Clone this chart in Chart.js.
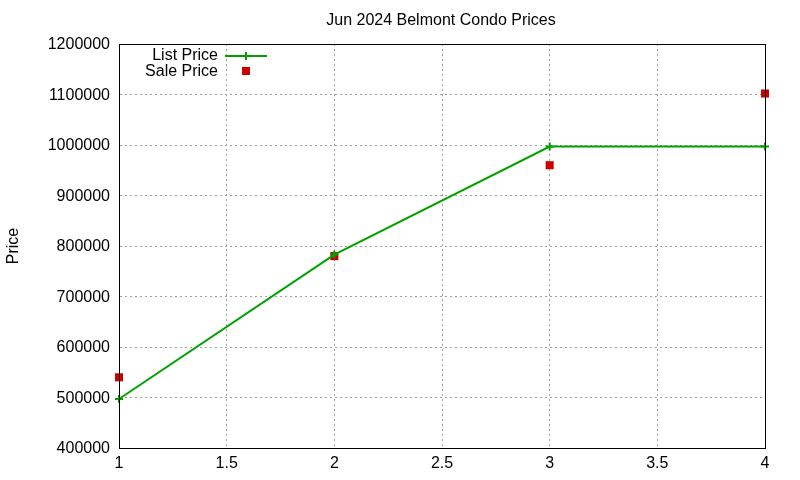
<!DOCTYPE html>
<html><head><meta charset="utf-8">
<script src="https://cdn.jsdelivr.net/npm/chart.js@4"></script>
<style>html,body{margin:0;padding:0;background:#fff}#wrap{width:800px;height:480px}</style>
</head><body><div id="wrap"><canvas id="c" width="800" height="480"></canvas></div>
<script>
const chartTitle = "Jun 2024 Belmont Condo Prices";
const yAxisLabel = "Price";
const xValues = [1, 2, 3, 4];
const listPrice = [497000, 783000, 997000, 997000];
const salePrice = [540000, 780000, 960000, 1102000];
const seriesNames = ["List Price", "Sale Price"];

const FONT = "'Liberation Sans', Arial, sans-serif";
const green = "#00a000", red = "#cc0000";

const boxPlugin = {
  id: 'boxAndText',
  afterDraw(chart) {
    const {ctx, chartArea: a} = chart;
    ctx.save();
    ctx.strokeStyle = '#000'; ctx.lineWidth = 1;
    ctx.strokeRect(Math.round(a.left)+0.5, Math.round(a.top)+0.5, Math.round(a.right-a.left), Math.round(a.bottom-a.top));
    ctx.fillStyle = '#000';
    ctx.font = "16px " + FONT;
    ctx.textAlign = 'center'; ctx.textBaseline = 'middle';
    ctx.fillText(chartTitle, 441, 21);
    // legend
    ctx.textAlign = 'right';
    ctx.fillText(seriesNames[0], 218, 56);
    ctx.fillText(seriesNames[1], 218, 72);
    ctx.strokeStyle = green; ctx.lineWidth = 2;
    ctx.beginPath(); ctx.moveTo(225, 56); ctx.lineTo(267, 56); ctx.moveTo(246, 52); ctx.lineTo(246, 60); ctx.stroke();
    ctx.fillStyle = red; ctx.fillRect(242, 67, 8, 8);
    ctx.restore();
  }
};

new Chart(document.getElementById('c'), {
  type: 'line',
  data: {
    datasets: [
      { label: seriesNames[0], data: xValues.map((x,i)=>({x, y: listPrice[i]})),
        borderColor: green, backgroundColor: green, borderWidth: 2,
        pointStyle: 'cross', pointRadius: 4, pointBorderWidth: 2, tension: 0, clip: false },
      { label: seriesNames[1], data: xValues.map((x,i)=>({x, y: salePrice[i]})),
        showLine: false, borderColor: red, backgroundColor: red,
        pointStyle: 'rect', pointRadius: 5.7, pointBorderWidth: 0, clip: false }
    ]
  },
  options: {
    responsive: false, animation: false,
    layout: { padding: { top: 44, right: 35, left: 0, bottom: 0 } },
    plugins: { legend: { display: false }, title: { display: false }, tooltip: { enabled: false } },
    scales: {
      x: { type: 'linear', min: 1, max: 4,
        ticks: { stepSize: 0.5, color: '#000', font: { family: FONT, size: 16 }, padding: 6, maxRotation: 0,
          callback: v => String(v) },
        grid: { color: '#a0a0a0', drawTicks: false, tickLength: 0 },
        border: { color: '#000', dash: [2, 3], display: true },
        afterFit(s) { s.height = 32; } },
      y: { min: 400000, max: 1200000,
        ticks: { stepSize: 100000, color: '#000', font: { family: FONT, size: 16 }, padding: 9, labelOffset: 1,
          callback: v => String(v) },
        grid: { color: '#a0a0a0', drawTicks: false, tickLength: 0 },
        border: { color: '#000', dash: [2, 3], display: true },
        title: { display: true, text: yAxisLabel, color: '#000', font: { family: FONT, size: 16 }, padding: { top: 4, bottom: 0 } },
        afterFit(s) { s.width = 119; } }
    }
  },
  plugins: [boxPlugin]
});
</script></body></html>
